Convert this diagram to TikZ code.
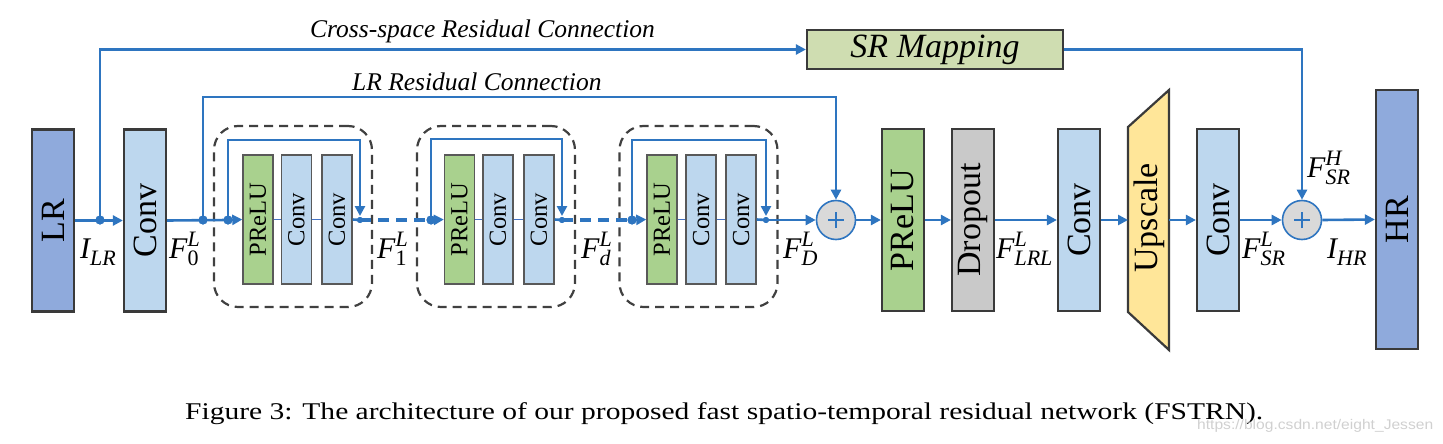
\documentclass[tikz,border=0pt]{standalone}
\usepackage{fontspec}
\usepackage{graphicx}
\setmainfont{Liberation Serif}
\newfontfamily\wmfont{Liberation Sans}
\usetikzlibrary{arrows.meta}
\definecolor{lblue}{HTML}{2E75C0}
\definecolor{thinblue}{HTML}{4472C4}
\definecolor{bord}{HTML}{3A3A3A}
\definecolor{sbord}{HTML}{595959}
\definecolor{dashc}{HTML}{404040}
\definecolor{hrblue}{HTML}{8FAADC}
\definecolor{convblue}{HTML}{BDD7EE}
\definecolor{prelugreen}{HTML}{A9D18E}
\definecolor{dropgray}{HTML}{C9C9C9}
\definecolor{upyellow}{HTML}{FFE699}
\definecolor{srgreen}{HTML}{CFDDB1}
\definecolor{plusgray}{HTML}{D9D9D9}
\definecolor{wmgray}{HTML}{D0D0D0}
\newcommand{\BigLbl}{\fontsize{34}{34}\selectfont}
\newcommand{\SmallLbl}{\fontsize{24.5}{24.5}\selectfont}
\newcommand{\FSS}[3]{#1\rlap{\raisebox{0.40em}{\fontsize{22}{22}\selectfont #2}}\raisebox{-0.24em}{\fontsize{22}{22}\selectfont #3}}
\tikzset{
  >={Triangle[length=10pt,width=10pt]},
  conn/.style={draw=lblue, line width=2.6pt},
  dconn/.style={draw=lblue, line width=3.6pt, dash pattern=on 11pt off 7pt},
  thinconn/.style={draw=thinblue, line width=1.6pt},
  bigbox/.style={draw=bord, line width=2.2pt, minimum width=42pt, minimum height=182pt, inner sep=0pt,
    label={[rotate=90, font=\BigLbl]center:#1}},
  smallbox/.style={draw=sbord, line width=1.4pt, minimum width=30pt, minimum height=129pt, inner sep=0pt,
    label={[rotate=90, font=\SmallLbl]center:#1}},
  dbox/.style={draw=dashc, line width=2.2pt, dash pattern=on 9pt off 6pt, rounded corners=24pt,
    minimum width=158pt, minimum height=181pt, inner sep=0pt},
  plusnode/.style={circle, draw=lblue, line width=1.6pt, fill=plusgray, minimum size=39pt, inner sep=0pt,
    path picture={\draw[lblue, line width=1.6pt] (path picture bounding box.center) +(-8pt,0pt) -- +(8pt,0pt)
      (path picture bounding box.center) +(0pt,-8pt) -- +(0pt,8pt);}},
  dot/.style={circle, fill=lblue, inner sep=0pt, minimum size=9pt},
  sdot/.style={circle, fill=lblue, inner sep=0pt, minimum size=6pt},
  lab/.style={font=\fontsize{30}{30}\selectfont\itshape, inner sep=0pt, anchor=base west},
  toplab/.style={font=\fontsize{25.5}{25.5}\selectfont\itshape, inner sep=0pt, anchor=base west},
}
\begin{document}
\begin{tikzpicture}[x=1pt, y=-1pt]
\useasboundingbox (0,0) rectangle (1443,444);
% dashed residual block frames
\node[dbox] (d1) at (293,216.5) {};
\node[dbox] (d2) at (496,216.5) {};
\node[dbox] (d3) at (698.5,216.5) {};
% main boxes
\node[bigbox=LR, fill=hrblue] (lr) at (53,220.5) {};
\node[bigbox=Conv, fill=convblue] (conv0) at (145,220.5) {};
\node[smallbox=PReLU, fill=prelugreen] (p1) at (258,219.5) {};
\node[smallbox=Conv, fill=convblue] (c1a) at (296.5,219.5) {};
\node[smallbox=Conv, fill=convblue] (c1b) at (337,219.5) {};
\node[smallbox=PReLU, fill=prelugreen] (p2) at (459.5,219.5) {};
\node[smallbox=Conv, fill=convblue] (c2a) at (498,219.5) {};
\node[smallbox=Conv, fill=convblue] (c2b) at (539,219.5) {};
\node[smallbox=PReLU, fill=prelugreen] (p3) at (662,219.5) {};
\node[smallbox=Conv, fill=convblue] (c3a) at (701,219.5) {};
\node[smallbox=Conv, fill=convblue] (c3b) at (741,219.5) {};
\node[plusnode] (plus1) at (836,220) {};
\node[bigbox=PReLU, fill=prelugreen] (prelu) at (903,220) {};
\node[bigbox=Dropout, fill=dropgray] (drop) at (973,220) {};
\node[bigbox=Conv, fill=convblue] (conv2) at (1079,220) {};
\draw[draw=bord, line width=2.2pt, fill=upyellow] (1128,127) -- (1169,90) -- (1169,350) -- (1128,312) -- cycle;
\node[rotate=90, font=\BigLbl, inner sep=0pt] (upl) at (1149.5,218) {Upscale};
\coordinate (upW) at (1128,220);
\coordinate (upE) at (1169,220);
\node[bigbox=Conv, fill=convblue] (conv3) at (1218,220) {};
\node[plusnode] (plus2) at (1302,220) {};
\node[draw=bord, line width=2.2pt, fill=hrblue, minimum width=42pt, minimum height=259pt, inner sep=0pt,
  label={[rotate=90, font=\BigLbl]center:HR}] (hr) at (1397,219.5) {};
\node[draw=bord, line width=2.2pt, fill=srgreen, minimum width=256pt, minimum height=39pt, inner sep=0pt,
  font=\fontsize{34}{34}\selectfont\itshape] (srm) at (935,49.5) {SR Mapping};
% junctions
\node[dot] (j0) at (100,220) {};
\node[dot] (j1) at (203,220) {};
\node[dot] (b1in) at (228,220) {};
\node[sdot] (b1out) at (360,220) {};
\node[dot] (b2in) at (431,220) {};
\node[sdot] (b2out) at (562,220) {};
\node[dot] (b3in) at (632,220) {};
\node[sdot] (b3out) at (766,220) {};
\coordinate (cstop) at (100,49.5);
\coordinate (lrtop) at (203,97);
\coordinate (b1top) at (228,140);
\coordinate (b2top) at (431,139);
\coordinate (b3top) at (632,140);
\coordinate (srtop) at (1302,49.5);
% connectors
\draw[conn,->] (lr.east) -- (conv0.west);
\draw[conn,->] (j0.center) -- (cstop) -- (srm.west);
\draw[conn] (conv0.east) -- (b1in.center);
\draw[conn,->] (j1.center) -- (lrtop) -| (plus1.north);
\draw[conn,->] (b1in.center) -- (p1.west);
\draw[conn,->] (b1in.center) -- (b1top) -| ([yshift=4pt]b1out.center);
\draw[thinconn] (p1.east) -- (c1a.west) (c1a.east) -- (c1b.west);
\draw[conn] (c1b.east) -- (b1out.center);
\draw[dconn] (b1out.center) -- (b2in.center);
\draw[conn,->] (b2in.center) -- (p2.west);
\draw[conn,->] (b2in.center) -- (b2top) -| ([yshift=4pt]b2out.center);
\draw[thinconn] (p2.east) -- (c2a.west) (c2a.east) -- (c2b.west);
\draw[conn] (c2b.east) -- (b2out.center);
\draw[dconn] (b2out.center) -- (b3in.center);
\draw[conn,->] (b3in.center) -- (p3.west);
\draw[conn,->] (b3in.center) -- (b3top) -| ([yshift=4pt]b3out.center);
\draw[thinconn] (p3.east) -- (c3a.west) (c3a.east) -- (c3b.west);
\draw[conn] (c3b.east) -- (b3out.center);
\draw[conn,->] (b3out.center) -- (plus1.west);
\draw[conn,->] (plus1.east) -- (prelu.west);
\draw[conn,->] (prelu.east) -- (drop.west);
\draw[conn,->] (drop.east) -- (conv2.west);
\draw[conn,->] (conv2.east) -- (upW);
\draw[conn,->] (upE) -- (conv3.west);
\draw[conn,->] (conv3.east) -- (plus2.west);
\draw[conn,->] (srm.east) -- (srtop) -- (plus2.north);
\draw[conn,->] (plus2.east) -- (hr.west);
% redraw dots on top
\node[dot] at (j0) {};
\node[dot] at (j1) {};
\node[dot] at (b1in) {};
\node[dot] at (b2in) {};
\node[dot] at (b3in) {};
\node[sdot] at (b1out) {};
\node[sdot] at (b2out) {};
\node[sdot] at (b3out) {};
% labels
\node[toplab] (cslab) at (310,38) {Cross-space Residual Connection};
\node[toplab] (lrlab) at (352,90) {LR Residual Connection};
\node[lab] (ilr) at (80,258) {\FSS{I}{}{LR}};
\node[lab] (f0) at (169,258) {\FSS{F}{L}{\upshape 0}};
\node[lab] (f1) at (377,258) {\FSS{F}{L}{\upshape 1}};
\node[lab] (fd) at (581,258) {\FSS{F}{L}{d}};
\node[lab] (fD) at (783,258) {\FSS{F}{L}{D}};
\node[lab] (flrl) at (996,258) {\FSS{F}{L}{LRL}};
\node[lab] (fsrl) at (1242,258) {\FSS{F}{L}{SR}};
\node[lab] (ihr) at (1327,258) {\FSS{I}{}{HR}};
\node[lab] (fsrh) at (1307,177) {\FSS{F}{H}{SR}};
% caption
\node[anchor=base west, inner sep=0pt] (cap) at (185,419)
  {\resizebox{1078pt}{\height}{\fontsize{24}{24}\selectfont Figure 3: The architecture of our proposed fast spatio-temporal residual network (FSTRN).}};
\node[anchor=base west, inner sep=0pt, text=wmgray] (wm) at (1197,429)
  {\resizebox{236pt}{\height}{\wmfont\fontsize{14}{14}\selectfont https://blog.csdn.net/eight\_Jessen}};
\end{tikzpicture}
\end{document}
